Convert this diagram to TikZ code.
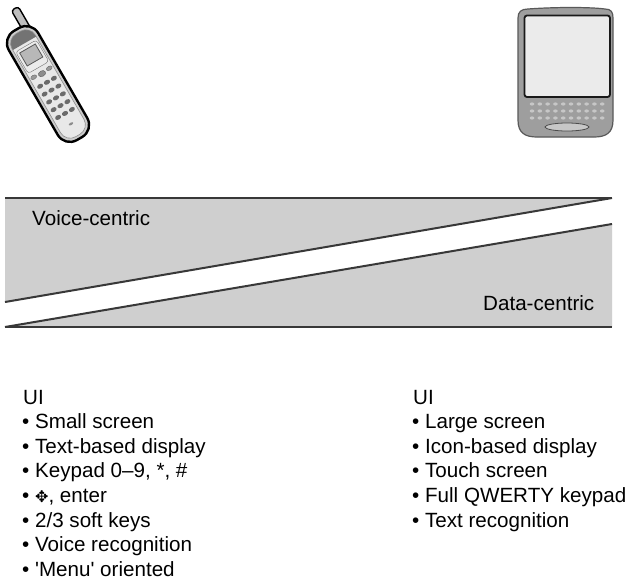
\documentclass[tikz,border=0pt]{standalone}
\usepackage{fontspec}
\setmainfont{Liberation Sans}
\newfontfamily\symfont{DejaVu Sans}
\begin{document}
\begin{tikzpicture}[x=1pt,y=-1pt,
  lbl/.style={anchor=base west,inner sep=0pt,font=\fontsize{20.6}{24.6}\selectfont},
  bandline/.style={draw=black!78,line width=2pt},
  key/.style={fill=black!58},
  kbdot/.style={fill=black!22}]
\useasboundingbox[fill=white] (0,0) rectangle (634,587);

% ---- candy-bar handset, tilted ----
\begin{scope}[shift={(48,84)},rotate=30]
  \draw[fill=black!25,line width=1.4pt,rounded corners=3pt] (5,-82) rectangle (13,-56);
  \draw[fill=black!20,line width=2.4pt,rounded corners=14pt] (-17,-63) rectangle (17,63);
  \begin{scope}
    \clip[rounded corners=11pt] (-13.5,-59.5) rectangle (13.5,59.5);
    \fill[black!9] (-14,-60) rectangle (14,60);
    \fill[black!55] (-14,-60) rectangle (14,-47);
  \end{scope}
  \draw[black!45,line width=0.6pt,rounded corners=11pt] (-13.5,-59.5) rectangle (13.5,59.5);
  \draw[fill=black!8,draw=black!55,rounded corners=3pt] (-12,-44) rectangle (12,-19);
  \draw[fill=black!28,draw=black!65,line width=0.8pt] (-9,-41) rectangle (9,-26);
  \draw[fill=black!40,draw=black!60] (-9,-13) ellipse (3.2 and 2);
  \draw[fill=black!40,draw=black!60] (9,-13) ellipse (3.2 and 2);
  \draw[fill=black!45,draw=black!65] (0,-12) ellipse (3.8 and 2.8);
  \foreach \r in {-2,7,16,25,34}
    \foreach \c in {-8,0,8}
      \fill[key] (\c,\r) ellipse (3.2 and 2.3);
  \fill[black!45] (0,46) ellipse (2.5 and 1.2);
\end{scope}

% ---- handheld with large screen and keyboard ----
\draw[fill=black!38,draw=black!65,line width=1.2pt]
  (528,9) .. controls (555,7) and (590,7) .. (605,9)
  .. controls (611,9) and (613,12) .. (613,18)
  -- (613,120) .. controls (613,133) and (606,137) .. (594,137)
  -- (537,137) .. controls (525,137) and (518,133) .. (518,120)
  -- (518,18) .. controls (518,12) and (521,9) .. (528,9) -- cycle;
\draw[fill=black!8,draw=black!90,line width=1.8pt,rounded corners=2.5pt] (524.5,15.5) rectangle (610,97);
\foreach \r in {104,111,118}
  \foreach \c in {0,...,9}
    \fill[kbdot] (532+7.8*\c,\r) ellipse (2.3 and 1.6);
\draw[fill=black!22,draw=black!70,line width=0.8pt] (567,127) ellipse (22 and 4);

% ---- voice / data band ----
\fill[black!19] (5,198) -- (612,198) -- (5,302) -- cycle;
\fill[black!19] (5,327) -- (612,224) -- (612,327) -- cycle;
\coordinate (tl) at (5,198);
\coordinate (tr) at (612,198);
\coordinate (bl) at (5,327);
\coordinate (br) at (612,327);
\coordinate (ul) at (5,302);
\coordinate (lr) at (612,224);
\draw[bandline] (tl) -- (tr);
\draw[bandline] (bl) -- (br);
\draw[bandline] (ul) -- (tr);
\draw[bandline] (bl) -- (lr);
\node[lbl] (voice) at (32,225) {Voice-centric};
\node[lbl] (data) at (483,310) {Data-centric};

% ---- feature lists ----
\node[lbl] (uiA) at (23,404) {UI};
\node[lbl] (a1) at (22,428.6) {• Small screen};
\node[lbl] (a2) at (22,453.2) {• Text-based display};
\node[lbl] (a3) at (22,477.8) {• Keypad 0–9, *, \#};
\node[lbl] (a4) at (22,502.4) {• {\symfont\fontsize{16}{16}\selectfont ✥}, enter};
\node[lbl] (a5) at (22,527.0) {• 2/3 soft keys};
\node[lbl] (a6) at (22,551.6) {• Voice recognition};
\node[lbl] (a7) at (22,576.2) {• \textquotesingle Menu\textquotesingle\ oriented};

\node[lbl] (uiB) at (413,404) {UI};
\node[lbl] (b1) at (412,428.6) {• Large screen};
\node[lbl] (b2) at (412,453.2) {• Icon-based display};
\node[lbl] (b3) at (412,477.8) {• Touch screen};
\node[lbl] (b4) at (412,502.4) {• Full QWERTY keypad};
\node[lbl] (b5) at (412,527.0) {• Text recognition};
\end{tikzpicture}
\end{document}
